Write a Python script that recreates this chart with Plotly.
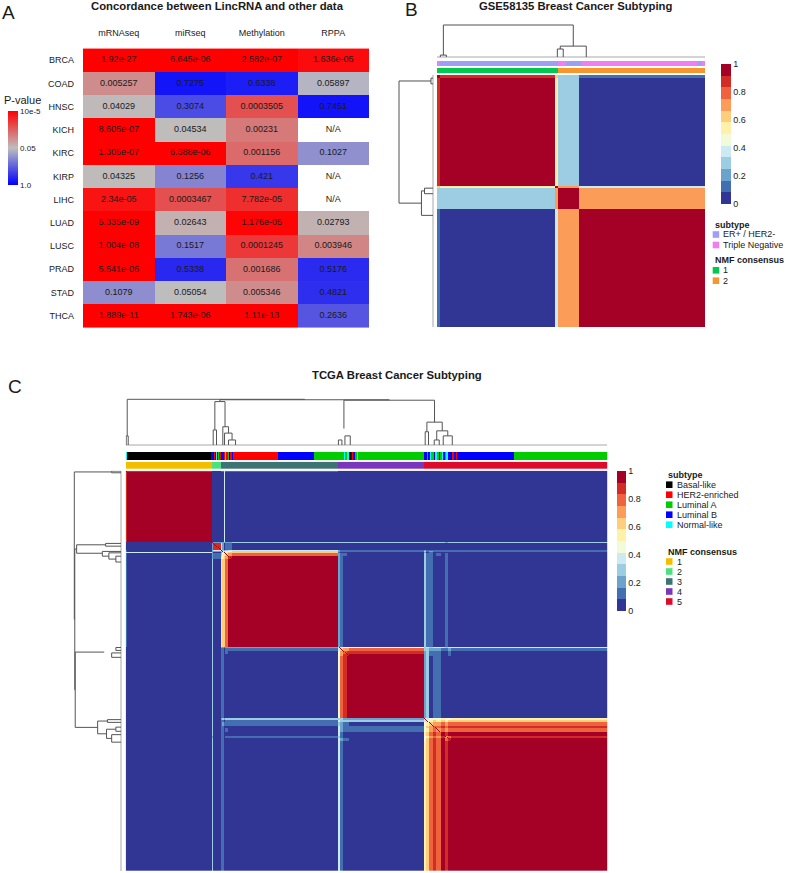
import numpy as np
import plotly.graph_objects as go

W, H = 786, 873
FONT = "Liberation Sans, Arial, Helvetica, sans-serif"
TXT = "#1a1a1a"

# ======================= DATA =======================
# ---- Panel A: concordance p-values ----
a_cancers = ["BRCA", "COAD", "HNSC", "KICH", "KIRC", "KIRP", "LIHC", "LUAD", "LUSC", "PRAD", "STAD", "THCA"]
a_datasets = ["mRNAseq", "miRseq", "Methylation", "RPPA"]
p_mrnaseq = [1.92e-27, 0.005257, 0.04029, 8.605e-07, 1.305e-07, 0.04325, 2.34e-05, 5.335e-09, 1.004e-08, 5.541e-06, 0.1079, 1.889e-11]
p_mirseq = [6.645e-06, 0.7275, 0.3074, 0.04534, 6.388e-06, 0.1256, 0.0003467, 0.02643, 0.1517, 0.5338, 0.05054, 1.743e-06]
p_methylation = [2.582e-07, 0.6338, 0.0003505, 0.00231, 0.001156, 0.421, 7.782e-05, 1.176e-05, 0.0001245, 0.001686, 0.005346, 1.11e-13]
p_rppa = [1.636e-05, 0.05897, 0.7451, None, 0.1027, None, None, 0.02793, 0.003946, 0.5176, 0.4821, 0.2636]
a_scale_pvalues = [1.0, 0.05, 1e-5]
a_scale_labels = ["1.0", "0.05", "10e-5"]

# ---- Panel B: GSE58135 consensus (sample groups in dendrogram order) ----
b_group_sizes = [1, 43, 1, 8, 47]
b_group_consensus = [
    [1.00, 0.90, 0.60, 0.30, 0.15],
    [0.90, 1.00, 0.55, 0.30, 0.00],
    [0.60, 0.55, 1.00, 0.70, 0.40],
    [0.30, 0.30, 0.70, 1.00, 0.70],
    [0.15, 0.00, 0.40, 0.70, 1.00],
]
b_subtype_names = ["ER+ / HER2-", "Triple Negative"]
b_subtype_colors = ["#9E9EF7", "#F07EF0"]
b_subtype_runs = ["Triple Negative", "ER+ / HER2-", "Triple Negative", "ER+ / HER2-",
                  "Triple Negative", "ER+ / HER2-", "Triple Negative"]
b_subtype_run_lengths = [1, 44, 3, 6, 43, 2, 1]
b_nmf_names = ["1", "2"]
b_nmf_colors = ["#00C94F", "#F7962F"]
b_nmf_run_lengths = [45, 55]
# dendrogram links: left/right position (sample index), left/right child height, merge height
b_link_xl = [1.875, 0.75, 45.5, 44.4]
b_link_xr = [50.35, 3.0, 55.2, 46.6]
b_link_hl = [0.06, 0.0, 0.25, 0.0]
b_link_hr = [0.34, 0.0, 0.0, 0.0]
b_link_ht = [1.00, 0.06, 0.34, 0.25]

# ---- Panel C: TCGA consensus (sample groups with cluster membership) ----
c_group_sizes = [1, 85, 1, 8, 1, 2, 1, 3, 4, 105, 2, 3, 4, 2, 75, 2, 3, 4, 3, 5, 4, 3, 3, 156]
c_group_membership = [
    [0.85, 0, 0.15, 0, 0],
    [1, 0, 0, 0, 0],
    [0.03, 0.22, 0.25, 0.25, 0.25],
    [0, 0.92, 0.08, 0, 0],
    [0.05, 0.35, 0.35, 0.15, 0.10],
    [0, 0.2, 0.6, 0.1, 0.1],
    [0.35, 0, 0.65, 0, 0],
    [0, 0.1, 0.8, 0.05, 0.05],
    [0, 0.05, 0.92, 0, 0.03],
    [0, 0, 1, 0, 0],
    [0, 0, 0.2, 0.45, 0.35],
    [0, 0, 0.1, 0.75, 0.15],
    [0, 0, 0.05, 0.88, 0.07],
    [0, 0, 0, 0.95, 0.05],
    [0, 0, 0, 1, 0],
    [0, 0, 0.3, 0.2, 0.5],
    [0, 0, 0.1, 0.25, 0.65],
    [0, 0, 0.15, 0.05, 0.8],
    [0, 0, 0, 0.1, 0.9],
    [0, 0, 0.05, 0.12, 0.83],
    [0, 0, 0, 0, 1],
    [0, 0.05, 0.1, 0, 0.85],
    [0, 0, 0, 0.05, 0.95],
    [0, 0, 0, 0, 1],
]
c_subtype_names = ["Basal-like", "HER2-enriched", "Luminal A", "Luminal B", "Normal-like"]
c_subtype_colors = ["#000000", "#FF0000", "#00CC00", "#0000FF", "#00FFFF"]
c_subtype_runs = (["Normal-like", "Basal-like"]
    + ["Luminal B", "Basal-like", "HER2-enriched", "Luminal B", "Normal-like", "Basal-like", "Luminal A",
       "HER2-enriched", "Basal-like", "Luminal B", "HER2-enriched", "Normal-like", "HER2-enriched",
       "Luminal A", "Basal-like", "HER2-enriched", "Luminal B", "HER2-enriched"]
    + ["HER2-enriched", "Luminal B", "Luminal A"]
    + ["Normal-like", "Luminal A", "Normal-like", "Luminal B", "Basal-like", "Luminal B", "HER2-enriched",
       "Luminal B", "Luminal A", "Normal-like", "Luminal A"]
    + ["Luminal A"]
    + ["Luminal B", "Luminal A", "Luminal B", "Normal-like", "Luminal A", "Luminal B", "Normal-like",
       "Luminal A", "Luminal B", "Luminal A", "Normal-like", "Luminal B", "Luminal A", "Normal-like",
       "Luminal B", "Basal-like", "HER2-enriched", "Luminal B", "HER2-enriched", "Luminal B"]
    + ["Luminal B", "Luminal A"])
c_subtype_run_lengths = ([1, 84]
    + [2, 1, 1, 1, 1, 1, 1, 2, 1, 2, 1, 1, 2, 1, 1, 2, 1, 1]
    + [44, 36, 29]
    + [1, 2, 2, 1, 1, 1, 1, 2, 2, 1, 3]
    + [63]
    + [3, 1, 2, 1, 3, 1, 2, 2, 1, 2, 1, 2, 1, 2, 3, 1, 2, 2, 1, 1]
    + [56, 93])
c_nmf_names = ["1", "2", "3", "4", "5"]
c_nmf_colors = ["#F4BE00", "#4CE07E", "#3D7373", "#7A35BD", "#DC0B2B"]
c_nmf_run_lengths = [86, 9, 116, 86, 183]
c_link_xl = [1.0, 0.0, 93.4, 88.35, 86.7, 96.3, 98.0, 102.0, 217.0, 211.5, 218.0, 299.7, 298.0, 309.5, 307.0, 316.0]
c_link_xr = [177.8, 2.0, 262.1, 98.5, 90.0, 102.0, 105.5, 109.0, 307.3, 215.0, 223.3, 315.0, 301.3, 320.5, 312.0, 325.0]
c_link_hl = [0.20, 0.0, 0.95, 0.33, 0.0, 0.0, 0.0, 0.0, 0.36, 0.0, 0.0, 0.29, 0.0, 0.11, 0.0, 0.0]
c_link_hr = [0.99, 0.0, 0.98, 0.40, 0.0, 0.26, 0.11, 0.0, 0.50, 0.0, 0.0, 0.31, 0.0, 0.20, 0.0, 0.0]
c_link_ht = [1.00, 0.20, 0.99, 0.95, 0.33, 0.40, 0.26, 0.11, 0.98, 0.11, 0.20, 0.50, 0.29, 0.31, 0.11, 0.20]

consensus_ticks = [0, 0.2, 0.4, 0.6, 0.8, 1]

# ======================= HELPERS =======================
def X(px):
    return px / W


def Y(py):
    return 1 - py / H


def pval_pos(p):
    if p is None:
        return None
    lm = -np.log10(0.05)
    l = -np.log10(p)
    if l <= lm:
        return 0.5 * l / lm
    return 0.5 + 0.5 * min(1.0, (l - lm) / (5.0 - lm))


def hexrgb(h):
    h = h.lstrip("#")
    return np.array([int(h[i:i + 2], 16) for i in (0, 2, 4)], float)


def ramp(cols, n):
    arr = [hexrgb(c) for c in cols]
    out = []
    for k in range(n):
        t = k * (len(arr) - 1) / (n - 1)
        i = min(int(np.floor(t)), len(arr) - 2)
        f = t - i
        c = arr[i] * (1 - f) + arr[i + 1] * f
        out.append("rgb(%d,%d,%d)" % tuple(np.round(c)))
    return out


def stepped(cols):
    n = len(cols)
    cs = []
    for i, c in enumerate(cols):
        cs += [[i / n, c], [(i + 1) / n, c]]
    return cs


def expand(run_labels, run_lengths, names):
    codes = []
    for lab, ln in zip(run_labels, run_lengths):
        codes += [names.index(lab)] * ln
    return codes


def links_xy(xl, xr, hl, hr, ht):
    xs, ys = [], []
    for a, b, c, d, e in zip(xl, xr, hl, hr, ht):
        xs += [a, a, b, b, None]
        ys += [c, e, e, d, None]
    return xs, ys


RDYLBU = ["#313695", "#4575b4", "#74add1", "#abd9e9", "#e0f3f8", "#ffffbf",
          "#fee090", "#fdae61", "#f46d43", "#d73027", "#a50026"]
CONS_SCALE = stepped(ramp(RDYLBU, 12))

fig = go.Figure()

# ======================= PANEL A =======================
z_a = [[pval_pos(v) for v in row] for row in zip(p_mrnaseq, p_mirseq, p_methylation, p_rppa)]
fig.add_trace(go.Heatmap(
    z=z_a, x=a_datasets, y=a_cancers, xaxis="x", yaxis="y",
    colorscale=[[0, "#0000FF"], [0.5, "#BEBEBE"], [1, "#FF0000"]], zmin=0, zmax=1,
    hoverongaps=False,
    colorbar=dict(x=X(7.5), xanchor="left", y=Y(148), yanchor="middle", lenmode="pixels", len=74,
                  thickness=10, xpad=0, ypad=0, outlinewidth=0, ticks="",
                  tickvals=[pval_pos(p) for p in a_scale_pvalues], ticktext=a_scale_labels,
                  tickfont=dict(size=8, family=FONT, color=TXT))))
tx, ty, tt = [], [], []
for ci, ds in enumerate([p_mrnaseq, p_mirseq, p_methylation, p_rppa]):
    for ri, v in enumerate(ds):
        tx.append(a_datasets[ci])
        ty.append(a_cancers[ri])
        tt.append("N/A" if v is None else format(v, ".4g"))
fig.add_trace(go.Scatter(x=tx, y=ty, text=tt, mode="text", xaxis="x", yaxis="y",
                         textfont=dict(size=9, family=FONT, color=TXT), hoverinfo="skip", showlegend=False))

# ======================= PANEL B =======================
gid_b = np.repeat(np.arange(len(b_group_sizes)), b_group_sizes)
M_b = np.array(b_group_consensus)[np.ix_(gid_b, gid_b)]
NB = len(gid_b)
idx_b = np.arange(NB)
fig.add_trace(go.Heatmap(
    z=M_b, x=idx_b, y=idx_b, xaxis="x2", yaxis="y2", colorscale=CONS_SCALE, zmin=0, zmax=1,
    colorbar=dict(x=X(721), xanchor="left", y=Y(134), yanchor="middle", lenmode="pixels", len=140,
                  thickness=10, xpad=0, ypad=0, outlinewidth=0, ticks="", tickvals=consensus_ticks,
                  ticktext=[("%g" % t) for t in consensus_ticks],
                  tickfont=dict(size=9, family=FONT, color=TXT))))
b_sub = expand(b_subtype_runs, b_subtype_run_lengths, b_subtype_names)
b_nmf = expand(b_nmf_names, b_nmf_run_lengths, b_nmf_names)
fig.add_trace(go.Heatmap(z=[b_sub], x=idx_b, y=[0], xaxis="x2", yaxis="y3", colorscale=stepped(b_subtype_colors),
                         zmin=-0.5, zmax=len(b_subtype_names) - 0.5, showscale=False))
fig.add_trace(go.Heatmap(z=[b_nmf], x=idx_b, y=[0], xaxis="x2", yaxis="y4", colorscale=stepped(b_nmf_colors),
                         zmin=-0.5, zmax=len(b_nmf_names) - 0.5, showscale=False))
bx, bh = links_xy(b_link_xl, b_link_xr, b_link_hl, b_link_hr, b_link_ht)
fig.add_trace(go.Scatter(x=[-0.5, NB - 0.5], y=[0, 0], xaxis="x2", yaxis="y5", mode="lines",
                         line=dict(color="#a8a8a8", width=1), hoverinfo="skip", showlegend=False))
fig.add_trace(go.Scatter(x=bx, y=bh, xaxis="x2", yaxis="y5", mode="lines",
                         line=dict(color="#505050", width=1), hoverinfo="skip", showlegend=False))
fig.add_trace(go.Scatter(x=[0, 0], y=[-0.5, NB - 0.5], xaxis="x3", yaxis="y2", mode="lines",
                         line=dict(color="#a8a8a8", width=1), hoverinfo="skip", showlegend=False))
fig.add_trace(go.Scatter(x=bh, y=bx, xaxis="x3", yaxis="y2", mode="lines",
                         line=dict(color="#505050", width=1), hoverinfo="skip", showlegend=False))

# ======================= PANEL C =======================
P = np.repeat(np.array(c_group_membership, float), c_group_sizes, axis=0)
M_c = P @ P.T
np.fill_diagonal(M_c, 1.0)
M_c = np.round(M_c, 3)
NC = P.shape[0]
idx_c = np.arange(NC)
fig.add_trace(go.Heatmap(
    z=M_c, x=idx_c, y=idx_c, xaxis="x4", yaxis="y6", colorscale=CONS_SCALE, zmin=0, zmax=1,
    colorbar=dict(x=X(616.5), xanchor="left", y=Y(541), yanchor="middle", lenmode="pixels", len=140,
                  thickness=9, xpad=0, ypad=0, outlinewidth=0, ticks="", tickvals=consensus_ticks,
                  ticktext=[("%g" % t) for t in consensus_ticks],
                  tickfont=dict(size=9, family=FONT, color=TXT))))
c_sub = expand(c_subtype_runs, c_subtype_run_lengths, c_subtype_names)
c_nmf = expand(c_nmf_names, c_nmf_run_lengths, c_nmf_names)
fig.add_trace(go.Heatmap(z=[c_sub], x=idx_c, y=[0], xaxis="x4", yaxis="y7", colorscale=stepped(c_subtype_colors),
                         zmin=-0.5, zmax=len(c_subtype_names) - 0.5, showscale=False))
fig.add_trace(go.Heatmap(z=[c_nmf], x=idx_c, y=[0], xaxis="x4", yaxis="y8", colorscale=stepped(c_nmf_colors),
                         zmin=-0.5, zmax=len(c_nmf_names) - 0.5, showscale=False))
cx, ch = links_xy(c_link_xl, c_link_xr, c_link_hl, c_link_hr, c_link_ht)
fig.add_trace(go.Scatter(x=[-0.5, NC - 0.5], y=[0, 0], xaxis="x4", yaxis="y9", mode="lines",
                         line=dict(color="#a8a8a8", width=1), hoverinfo="skip", showlegend=False))
fig.add_trace(go.Scatter(x=cx, y=ch, xaxis="x4", yaxis="y9", mode="lines",
                         line=dict(color="#555555", width=1), hoverinfo="skip", showlegend=False))
fig.add_trace(go.Scatter(x=[0, 0], y=[-0.5, NC - 0.5], xaxis="x5", yaxis="y6", mode="lines",
                         line=dict(color="#a8a8a8", width=1), hoverinfo="skip", showlegend=False))
fig.add_trace(go.Scatter(x=ch, y=cx, xaxis="x5", yaxis="y6", mode="lines",
                         line=dict(color="#555555", width=1), hoverinfo="skip", showlegend=False))


# ======================= LAYOUT =======================
def hid(**kw):
    d = dict(visible=False, showgrid=False, zeroline=False, fixedrange=True)
    d.update(kw)
    return d


PAD = 0.04
layout = dict(
    width=W, height=H, margin=dict(l=0, r=0, t=0, b=0),
    paper_bgcolor="white", plot_bgcolor="white", showlegend=False,
    font=dict(family=FONT, color=TXT),
    xaxis=dict(domain=[X(83), X(369)], side="top", anchor="y", showgrid=False, zeroline=False,
               showline=False, ticks="", ticklabelstandoff=7, tickfont=dict(size=9, family=FONT, color=TXT),
               fixedrange=True),
    yaxis=dict(domain=[Y(330), Y(46)], anchor="x", autorange="reversed", showgrid=False, zeroline=False,
               showline=False, ticks="", ticklabelstandoff=8, tickfont=dict(size=9, family=FONT, color=TXT),
               fixedrange=True),
    # panel B
    xaxis2=hid(domain=[X(437), X(705)], range=[-0.5, NB - 0.5], anchor="y2"),
    yaxis2=hid(domain=[Y(327), Y(75)], range=[NB - 0.5, -0.5], anchor="x2"),
    yaxis3=hid(domain=[Y(66), Y(61)], range=[-0.5, 0.5], anchor="x2"),
    yaxis4=hid(domain=[Y(73), Y(68)], range=[-0.5, 0.5], anchor="x2"),
    yaxis5=hid(domain=[Y(57 + PAD * 32), Y(25 - PAD * 32)], range=[-PAD, 1 + PAD], anchor="x2"),
    xaxis3=hid(domain=[X(399 - PAD * 34), X(433 + PAD * 34)], range=[1 + PAD, -PAD], anchor="y2"),
    # panel C
    xaxis4=hid(domain=[X(125.7), X(607.3)], range=[-0.5, NC - 0.5], anchor="y6"),
    yaxis6=hid(domain=[Y(871), Y(470.7)], range=[NC - 0.5, -0.5], anchor="x4"),
    yaxis7=hid(domain=[Y(460), Y(452)], range=[-0.5, 0.5], anchor="x4"),
    yaxis8=hid(domain=[Y(469), Y(461.7)], range=[-0.5, 0.5], anchor="x4"),
    yaxis9=hid(domain=[Y(445 + PAD * 45.7), Y(399.3 - PAD * 45.7)], range=[-PAD, 1 + PAD], anchor="x4"),
    xaxis5=hid(domain=[X(74.3 - PAD * 46.7), X(121 + PAD * 46.7)], range=[1 + PAD, -PAD], anchor="y6"),
)
fig.update_layout(**layout)

ann = []
shapes = []


def text(px, py, s, size, bold=False, xanchor="center"):
    ann.append(dict(x=X(px), y=Y(py), xref="paper", yref="paper", text=("<b>%s</b>" % s) if bold else s,
                    showarrow=False, xanchor=xanchor, yanchor="middle",
                    font=dict(size=size, family=FONT, color=TXT)))


# panel letters and titles
text(8, 12.5, "A", 19)
text(411, 10, "B", 19)
text(15, 386, "C", 19)
text(218, 6.5, "Concordance between LincRNA and other data", 11.3, bold=True)
text(575, 6.5, "GSE58135 Breast Cancer Subtyping", 11.3, bold=True)
text(397, 375, "TCGA Breast Cancer Subtyping", 11.3, bold=True)
text(2, 99.5, "P-value", 11, xanchor="left")


def legend(x_sq, title_y, title, names, colors, first_y, step):
    text(x_sq, title_y, title, 9, bold=True, xanchor="left")
    for i, (n, c) in enumerate(zip(names, colors)):
        yy = first_y + i * step
        shapes.append(dict(type="rect", xref="paper", yref="paper", x0=X(x_sq), x1=X(x_sq + 6.5),
                           y0=Y(yy + 3.3), y1=Y(yy - 3.3), fillcolor=c, line=dict(width=0)))
        text(x_sq + 8.5, yy, n, 9, xanchor="left")


legend(712.7, 225, "subtype", b_subtype_names, b_subtype_colors, 234.5, 10.5)
legend(712.7, 260.3, "NMF consensus", b_nmf_names, b_nmf_colors, 270.3, 10.4)
legend(666, 474.7, "subtype", c_subtype_names, c_subtype_colors, 484.7, 10)
legend(666, 551.7, "NMF consensus", c_nmf_names, c_nmf_colors, 561.5, 10)

fig.update_layout(annotations=ann, shapes=shapes)
fig.write_html("out.html", config={"displayModeBar": False},
               post_script="document.body.style.margin='0px';document.body.style.padding='0px';")
